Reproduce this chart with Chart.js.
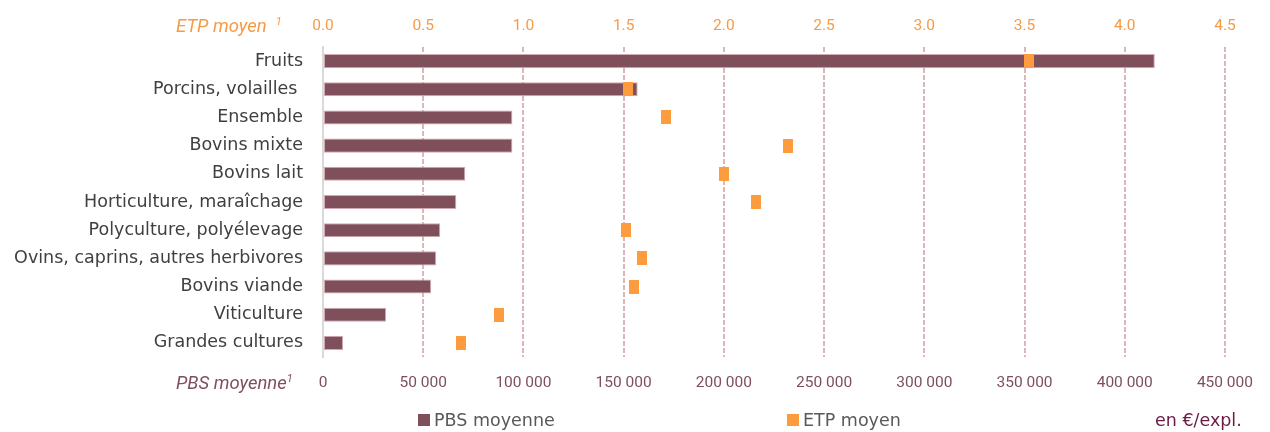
<!DOCTYPE html>
<html>
<head>
<meta charset="UTF-8">
<title>PBS et ETP moyens</title>
<script src="https://cdn.jsdelivr.net/npm/chart.js@4.4.1/dist/chart.umd.min.js"></script>
<style>
  body { margin: 0; background: #fff; overflow: hidden; }
  #wrap { position: relative; width: 1270px; height: 432px; }
  #canvas { display: block; }
  .t { position: absolute; white-space: nowrap; line-height: 20px; }
  .axt { font-family: 'Roboto', sans-serif; font-style: italic; font-size: 18.5px; }
  .leg { font-family: 'DejaVu Sans', 'Open Sans', sans-serif; font-size: 17.5px; color: #595959; }
  .sq { position: absolute; width: 12px; height: 12px; }
</style>
</head>
<body>
<div id="wrap">
  <canvas id="canvas" width="1270" height="432"></canvas>
  <div class="t axt" style="left:176px; top:12px; color:#f79a44;">ETP moyen &nbsp;<sup style="font-size:11px">1</sup></div>
  <div class="t axt" style="left:176px; top:369px; color:#7f4f5c;">PBS moyenne<sup style="font-size:11px">1</sup></div>
  <div class="sq" style="left:418px; top:414px; background:#7f4f5c;"></div>
  <div class="t leg" style="left:434px; top:410px;">PBS moyenne</div>
  <div class="sq" style="left:787px; top:414px; background:#fd9b3f;"></div>
  <div class="t leg" style="left:803px; top:410px;">ETP moyen</div>
  <div class="t leg" style="left:1155px; top:410px; color:#6b1a45;">en €/expl.</div>
</div>
<script>
var categories = ['Fruits', 'Porcins, volailles ', 'Ensemble', 'Bovins mixte', 'Bovins lait',
  'Horticulture, maraîchage', 'Polyculture, polyélevage', 'Ovins, caprins, autres herbivores',
  'Bovins viande', 'Viticulture', 'Grandes cultures'];
var pbsMoyenne = [415000, 157000, 94500, 94500, 71000, 66500, 58500, 56500, 54000, 31500, 10000];
var etpMoyen = [3.52, 1.52, 1.71, 2.32, 2.00, 2.16, 1.51, 1.59, 1.55, 0.88, 0.69];
var pbsTicks = [0, 50000, 100000, 150000, 200000, 250000, 300000, 350000, 400000, 450000];
var etpTicks = [0, 0.5, 1, 1.5, 2, 2.5, 3, 3.5, 4, 4.5];

// petit rectangle orange pour les ETP
var marker = document.createElement('canvas');
marker.width = 10; marker.height = 14;
var mctx = marker.getContext('2d');
mctx.fillStyle = '#fd9b3f';
mctx.fillRect(0, 0, 10, 14);

var tickFont = { family: "'Roboto', sans-serif", size: 15.5 };

var ctx = document.getElementById('canvas').getContext('2d');
new Chart(ctx, {
  type: 'bar',
  data: {
    labels: categories,
    datasets: [{
      label: 'ETP moyen',
      type: 'line',
      indexAxis: 'y',
      xAxisID: 'x2',
      data: etpMoyen,
      showLine: false,
      pointStyle: marker,
      pointRadius: 7,
      pointHoverRadius: 7,
      backgroundColor: '#fd9b3f',
      order: 0
    }, {
      label: 'PBS moyenne',
      xAxisID: 'x',
      data: pbsMoyenne,
      backgroundColor: '#7f4f5c',
      borderColor: '#d2aab2',
      borderWidth: 1,
      borderSkipped: false,
      barPercentage: 0.5,
      categoryPercentage: 1,
      order: 1
    }]
  },
  options: {
    indexAxis: 'y',
    responsive: false,
    animation: false,
    layout: { padding: { left: 0, right: 44, top: 0, bottom: 0 } },
    plugins: { legend: { display: false }, tooltip: { enabled: false } },
    scales: {
      x: {
        position: 'bottom',
        min: 0, max: 450000,
        afterBuildTicks: function(s) { s.ticks = pbsTicks.map(function(v) { return { value: v }; }); },
        afterFit: function(s) { s.height = 75; },
        border: { display: false, dash: [5, 2] },
        grid: {
          lineWidth: 2, drawTicks: false,
          color: function(c) { return c.tick && c.tick.value === 0 ? 'rgba(0,0,0,0)' : '#d9b7bb'; }
        },
        ticks: {
          color: '#7f4f5c', font: tickFont, padding: 17, maxRotation: 0,
          callback: function(v) { return v === 0 ? '0' : String(v).replace(/\B(?=(\d{3})+(?!\d))/g, ' '); }
        }
      },
      x2: {
        position: 'top',
        min: 0, max: 4.5,
        afterBuildTicks: function(s) { s.ticks = etpTicks.map(function(v) { return { value: v }; }); },
        afterFit: function(s) { s.height = 47; },
        border: { display: false },
        grid: { display: false, drawTicks: false },
        ticks: {
          color: '#f79a44', font: tickFont, padding: 12, maxRotation: 0,
          callback: function(v) { return Number(v).toFixed(1); }
        }
      },
      y: {
        afterFit: function(s) { s.width = 323; },
        border: { display: true, color: '#d9d9d9', width: 2 },
        grid: { display: false, drawTicks: false },
        ticks: {
          color: '#404040', padding: 20,
          font: { family: "'DejaVu Sans', 'Open Sans', sans-serif", size: 17.5 }
        }
      }
    }
  }
});
</script>
</body>
</html>
